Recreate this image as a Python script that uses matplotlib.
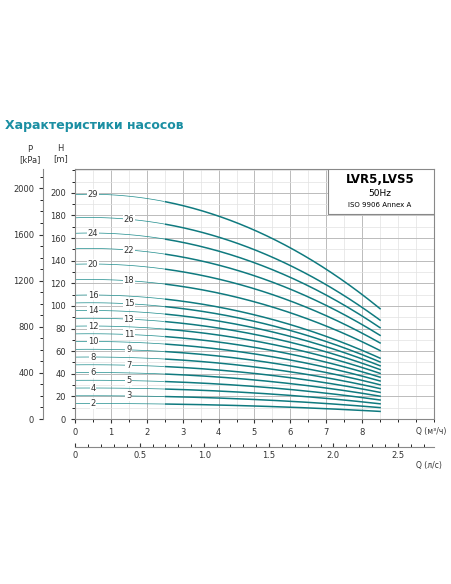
import numpy as np
import matplotlib.pyplot as plt
from matplotlib.ticker import MultipleLocator, FixedLocator

plt.rcParams["font.family"] = ["DejaVu Sans"]

stages = [2, 3, 4, 5, 6, 7, 8, 9, 10, 11, 12, 13, 14, 15, 16, 18, 20, 22, 24, 26, 29]
q_pts = [0, 1, 2, 2.5, 3, 4, 5, 6, 7, 8, 8.5]
h_per_stage = [6.85, 6.82, 6.72, 6.63, 6.52, 6.2, 5.75, 5.2, 4.55, 3.85, 3.33]
q_ticks = [0, 1, 2, 3, 4, 5, 6, 7, 8]
h_ticks = [0, 20, 40, 60, 80, 100, 120, 140, 160, 180, 200]
p_ticks = [0, 400, 800, 1200, 1600, 2000]
ls_ticks = [0, 0.5, 1.0, 1.5, 2.0, 2.5]

teal = "#1c8c8c"
fig = plt.figure(figsize=(4.52, 5.84), dpi=100)
ax = fig.add_axes([0.166, 0.2825, 0.794, 0.428])
ax.set_xlim(0, 10)
ax.set_ylim(0, 221)

coef = np.polyfit(q_pts, h_per_stage, 4)
q = np.linspace(0, 8.5, 200)
hs = np.polyval(coef, q)
for i, n in enumerate(stages):
    h = n * hs
    thin = q <= 2.5
    ax.plot(q[thin], h[thin], color=teal, lw=0.5)
    ax.plot(q[~thin], h[~thin], color="#0f7a7f", lw=1.1)
    xl = 0.5 if i % 2 == 0 else 1.5
    if n in (16, 20, 24, 29):
        xl = 0.5
    if n in (18, 22, 26):
        xl = 1.5
    yl = n * np.polyval(coef, xl)
    ax.text(xl, yl, str(n), fontsize=6, ha="center", va="center", color="#333333",
            bbox=dict(boxstyle="square,pad=0.1", fc="white", ec="none"))

ax.xaxis.set_major_locator(FixedLocator(q_ticks))
ax.xaxis.set_minor_locator(MultipleLocator(0.5))
ax.yaxis.set_major_locator(FixedLocator(h_ticks))
ax.yaxis.set_minor_locator(MultipleLocator(10))
ax.grid(which="major", color="#bbbbbb", lw=0.7)
ax.grid(which="minor", color="#e2e2e2", lw=0.5)
ax.tick_params(labelsize=6, colors="#333333", length=3)
ax.tick_params(which="minor", length=2)
for s in ax.spines.values():
    s.set_color("#888888")
ax.text(-0.4, 226, "H\n[m]", fontsize=6, ha="center", va="bottom", color="#333333")

# legend box
ax.fill_between([7.05, 10], 181, 221, color="white", zorder=2)
ax.plot([7.05, 7.05, 10], [221, 181, 181], color="#888888", lw=0.8, zorder=3)
ax.text(8.5, 212, "LVR5,LVS5", fontsize=8.5, fontweight="bold", ha="center", va="center", zorder=4)
ax.text(8.5, 199.5, "50Hz", fontsize=6.5, ha="center", va="center", zorder=4)
ax.text(8.5, 189.5, "ISO 9906 Annex A", fontsize=5, ha="center", va="center", zorder=4)

# pressure axis
axp = fig.add_axes(ax.get_position())
axp.patch.set_visible(False)
axp.set_ylim(0, 221 * 9.81)
axp.set_xticks([])
for k in ("top", "right", "bottom"):
    axp.spines[k].set_visible(False)
axp.spines["left"].set_position(("axes", -0.089))
axp.spines["left"].set_color("#888888")
axp.yaxis.set_major_locator(FixedLocator(p_ticks))
axp.yaxis.set_minor_locator(MultipleLocator(100))
axp.tick_params(labelsize=6, colors="#333333", length=3)
axp.tick_params(which="minor", length=2)
axp.text(-0.125, 1.02, "P\n[kPa]", transform=axp.transAxes, fontsize=6,
         ha="center", va="bottom", color="#333333")

# l/s axis
sec = ax.secondary_xaxis(-0.11, functions=(lambda x: x / 3.6, lambda x: x * 3.6))
sec.xaxis.set_major_locator(FixedLocator(ls_ticks))
sec.xaxis.set_minor_locator(MultipleLocator(0.1))
sec.set_xticklabels(["0", "0.5", "1.0", "1.5", "2.0", "2.5"])
sec.tick_params(labelsize=6, colors="#333333", direction="in", length=3)
sec.tick_params(which="minor", direction="in", length=2)
sec.spines["bottom"].set_color("#888888")

ax.text(9.5, -11, "Q (м³/ч)", fontsize=5.5, ha="left", va="center", color="#333333")
ax.text(9.5, -41, "Q (л/с)", fontsize=5.5, ha="left", va="center", color="#333333")

fig.text(0.012, 0.785, "Характеристики насосов", fontsize=9, fontweight="bold",
         color="#1b8fa3", ha="left", va="center")

fig.savefig("out.png", dpi=100)
